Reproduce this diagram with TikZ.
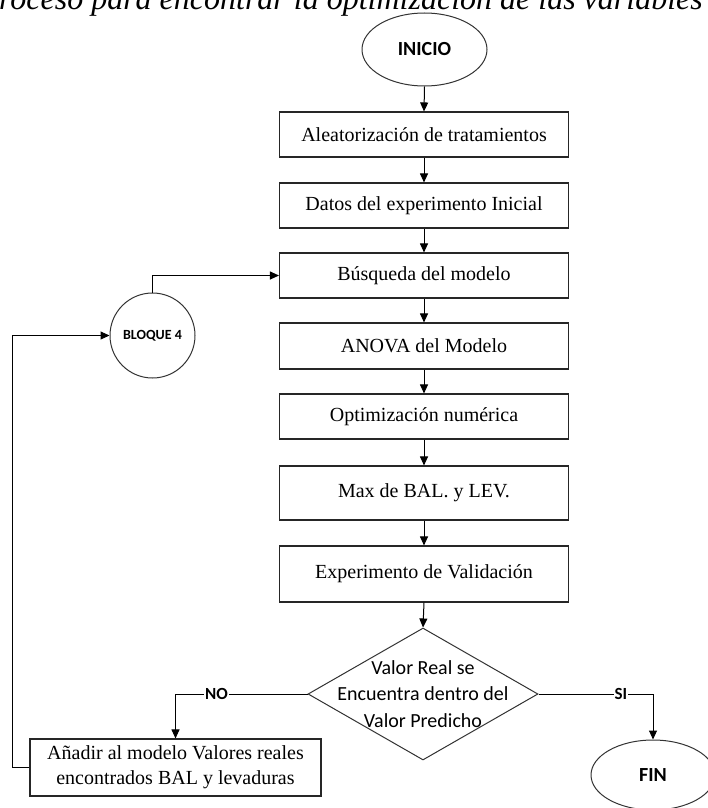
\documentclass[tikz,border=0pt]{standalone}
\usepackage{fontspec}
\setmainfont{Liberation Serif}
\newfontfamily\calfont{Carlito}
\usetikzlibrary{shapes.geometric,arrows.meta}
\begin{document}
\begin{tikzpicture}[x=1pt,y=-1pt,
  proc/.style={draw=black!85, line width=1.1pt, rectangle, minimum width=289pt, inner sep=0pt, font=\fontsize{20}{25}\selectfont},
  term/.style={draw=black!80, line width=1pt, ellipse, inner sep=0pt, font=\calfont\bfseries\fontsize{20}{24}\selectfont},
  flow/.style={line width=1pt, -{Triangle[length=9pt,width=8pt]}},
  lab/.style={fill=white, inner sep=1pt, font=\calfont\bfseries\fontsize{17}{20}\selectfont}]
\useasboundingbox (0,0) rectangle (708,808);
\fill[white] (0,0) rectangle (708,808);

\node[anchor=base east, inner sep=0pt, font=\itshape\fontsize{32}{36}\selectfont] (title) at (703,10) {roceso para encontrar la optimización de las variables};

\node[term, minimum width=125pt, minimum height=73pt] (inicio) at (424.5,49.5) {INICIO};

\node[proc, minimum height=45pt] (b1) at (424,134.5) {Aleatorización de tratamientos};
\node[proc, minimum height=45pt] (b2) at (424,205.5) {Datos del experimento Inicial};
\node[proc, minimum height=45pt] (b3) at (424,275.5) {Búsqueda del modelo};
\node[proc, minimum height=46pt] (b4) at (424,346) {ANOVA del Modelo};
\node[proc, minimum height=45pt] (b5) at (424,416.5) {Optimización numérica};
\node[proc, minimum height=54pt] (b6) at (424,493) {Max de BAL. y LEV.};
\node[proc, minimum height=56pt] (b7) at (424,574) {Experimento de Validación};

\node[diamond, draw=black!80, line width=1pt, minimum width=230pt, minimum height=132pt, inner sep=0pt] (dia) at (423,694) {};
\node[font=\calfont\fontsize{20}{26.5}\selectfont, align=center, inner sep=0pt] (diatext) at (423,694) {Valor Real se\\Encuentra dentro del\\Valor Predicho};

\node[proc, minimum width=291pt, minimum height=57pt, align=center] (add) at (175.5,767.5) {Añadir al modelo Valores reales\\encontrados BAL y levaduras};

\node[term, minimum width=124pt, minimum height=70pt] (fin) at (653,775) {FIN};

\node[circle, draw=black!80, line width=1pt, minimum size=85pt, inner sep=0pt, font=\calfont\bfseries\fontsize{14}{16}\selectfont] (blq) at (152.5,335.5) {BLOQUE 4};

\draw[flow] (inicio.south) -- (b1.north);
\draw[flow] (b1.south) -- (b2.north);
\draw[flow] (b2.south) -- (b3.north);
\draw[flow] (b3.south) -- (b4.north);
\draw[flow] (b4.south) -- (b5.north);
\draw[flow] (b5.south) -- (b6.north);
\draw[flow] (b6.south) -- (b7.north);
\draw[flow] (b7.south) -- (dia.north);

\coordinate (noc) at (175.5,694);
\coordinate (sic) at (653,694);
\draw[flow] (dia.west) -- node[lab, pos=0.69] (no) {NO} (noc) -- (add.north);
\draw[flow] (dia.east) -- node[lab, pos=0.72] (si) {SI} (sic) -- (fin.north);

\coordinate (fb1) at (12,767.5);
\coordinate (fb2) at (12,335.5);
\draw[flow] (add.west) -- (fb1) -- (fb2) -- (blq.west);
\coordinate (up) at (152.5,275.5);
\draw[flow] (blq.north) -- (up) -- (b3.west);
\end{tikzpicture}
\end{document}
